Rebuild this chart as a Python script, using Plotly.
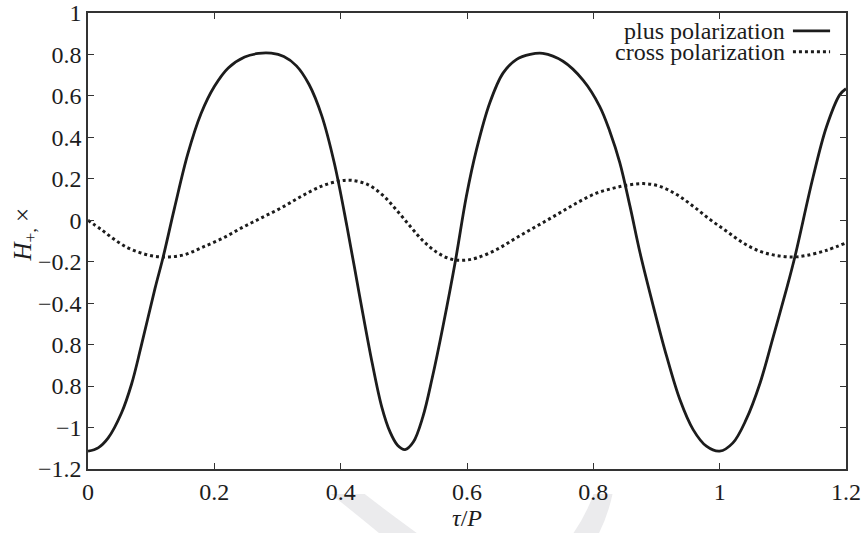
import plotly.graph_objects as go

# ---- data ----
t_plus = [0, 0.016, 0.032, 0.053, 0.069, 0.084, 0.106, 0.119, 0.137, 0.158, 0.179, 0.2,
          0.222, 0.248, 0.27, 0.29, 0.31, 0.33, 0.35, 0.37, 0.39, 0.41, 0.43, 0.45,
          0.465, 0.478, 0.49, 0.502, 0.515, 0.53, 0.545, 0.562, 0.582, 0.599, 0.615,
          0.636, 0.657, 0.678, 0.7, 0.72, 0.752, 0.784, 0.81, 0.826, 0.842, 0.858, 0.874,
          0.895, 0.916, 0.937, 0.958, 0.979, 1.0, 1.021, 1.042, 1.064, 1.085, 1.106,
          1.119, 1.148, 1.169, 1.19, 1.2]
h_plus = [-1.114, -1.098, -1.05, -0.93, -0.79, -0.61, -0.33, -0.177, 0.06, 0.32, 0.515,
          0.645, 0.735, 0.788, 0.805, 0.806, 0.79, 0.745, 0.655, 0.505, 0.275, -0.03,
          -0.365, -0.69, -0.9, -1.02, -1.085, -1.106, -1.07, -0.95, -0.76, -0.511, -0.19,
          0.116, 0.341, 0.566, 0.71, 0.775, 0.80, 0.805, 0.767, 0.675, 0.55, 0.43, 0.277,
          0.068, -0.158, -0.415, -0.656, -0.865, -1.01, -1.09, -1.114, -1.074, -0.961,
          -0.785, -0.56, -0.33, -0.177, 0.21, 0.45, 0.605, 0.635]

t_cross = [0, 0.021, 0.042, 0.063, 0.084, 0.106, 0.129, 0.153, 0.179, 0.211, 0.243, 0.274,
           0.306, 0.338, 0.369, 0.396, 0.417, 0.443, 0.467, 0.488, 0.51, 0.531, 0.552,
           0.573, 0.594, 0.615, 0.647, 0.678, 0.71, 0.742, 0.774, 0.806, 0.832, 0.853,
           0.879, 0.905, 0.932, 0.958, 0.985, 1.011, 1.037, 1.064, 1.09, 1.116, 1.137,
           1.169, 1.2]
h_cross = [0, -0.045, -0.093, -0.133, -0.158, -0.174, -0.177, -0.166, -0.133, -0.09,
           -0.037, 0.011, 0.06, 0.116, 0.164, 0.188, 0.193, 0.172, 0.12, 0.051, -0.029,
           -0.101, -0.154, -0.186, -0.193, -0.182, -0.141, -0.085, -0.029, 0.027, 0.084,
           0.132, 0.155, 0.169, 0.177, 0.164, 0.124, 0.068, 0.003, -0.053, -0.109, -0.15,
           -0.17, -0.177, -0.17, -0.145, -0.109]

x_ticks = [0, 0.2, 0.4, 0.6, 0.8, 1, 1.2]
x_ticklabels = ["0", "0.2", "0.4", "0.6", "0.8", "1", "1.2"]
y_ticks = [1, 0.8, 0.6, 0.4, 0.2, 0, -0.2, -0.4, -0.6, -0.8, -1, -1.2]
y_ticklabels = ["1", "0.8", "0.6", "0.4", "0.2", "0", "\u22120.2", "\u22120.4",
                "0.8", "0.8", "\u22121", "\u22121.2"]
series_names = ["plus polarization", "cross polarization"]

FONT = "Liberation Serif"
INK = "#1c1c1c"
FS = 24

fig = go.Figure()
fig.add_trace(go.Scatter(x=t_plus, y=h_plus, mode="lines", name=series_names[0],
                         line=dict(color=INK, width=2.8, shape="spline", smoothing=1.0),
                         showlegend=False))
fig.add_trace(go.Scatter(x=t_cross, y=h_cross, mode="lines", name=series_names[1],
                         line=dict(color=INK, width=3, dash="dot", shape="spline", smoothing=1.0),
                         showlegend=False))

# legend (text left of the line sample, as in the reference)
leg_y = [0.961, 0.915]
leg_dash = ["solid", "dot"]
leg_w = [2.8, 3]
for name, yy, dsh, w in zip(series_names, leg_y, leg_dash, leg_w):
    fig.add_annotation(xref="paper", yref="paper", x=0.922, y=yy, text=name,
                       showarrow=False, xanchor="right", yanchor="middle",
                       font=dict(family=FONT, size=FS, color=INK))
    fig.add_shape(type="line", xref="paper", yref="paper", x0=0.930, x1=0.979,
                  y0=yy, y1=yy, line=dict(color=INK, width=w, dash=dsh))

# y-axis title
fig.add_annotation(xref="paper", yref="paper", x=-0.084, y=0.515, textangle=-90,
                   text="<i>H</i><sub>+,</sub> \u00d7", showarrow=False,
                   xanchor="center", yanchor="middle",
                   font=dict(family=FONT, size=25, color=INK))

# faint watermark bands below the plot (decoration)
fig.add_shape(type="path", xref="paper", yref="paper", layer="below",
              path="M 0.320 -0.055 L 0.365 -0.055 Q 0.40 -0.10 0.450 -0.16 L 0.398 -0.16 Q 0.355 -0.10 0.320 -0.055 Z",
              fillcolor="#ebebed", line=dict(width=0))
fig.add_shape(type="path", xref="paper", yref="paper", layer="below",
              path="M 0.667 -0.055 L 0.692 -0.055 Q 0.685 -0.11 0.668 -0.16 L 0.632 -0.16 Q 0.655 -0.11 0.667 -0.055 Z",
              fillcolor="#ebebed", line=dict(width=0))

axis_common = dict(showgrid=False, zeroline=False, showline=True, linecolor="#333333",
                   linewidth=1.5, mirror="ticks", ticks="inside", ticklen=6,
                   tickcolor="#333333", tickwidth=1,
                   tickfont=dict(family=FONT, size=FS, color=INK))

fig.update_xaxes(range=[0, 1.2], tickvals=x_ticks, ticktext=x_ticklabels,
                 title=dict(text="<i>\u03c4</i>/<i>P</i>", font=dict(family=FONT, size=FS, color=INK),
                            standoff=4),
                 **axis_common)
fig.update_yaxes(range=[-1.2, 1], tickvals=y_ticks, ticktext=y_ticklabels,
                 **axis_common)

fig.update_layout(width=864, height=533, margin=dict(l=88, r=18, t=13, b=64, autoexpand=False),
                  paper_bgcolor="white", plot_bgcolor="white",
                  font=dict(family=FONT, color=INK))

fig.write_html("out.html")
